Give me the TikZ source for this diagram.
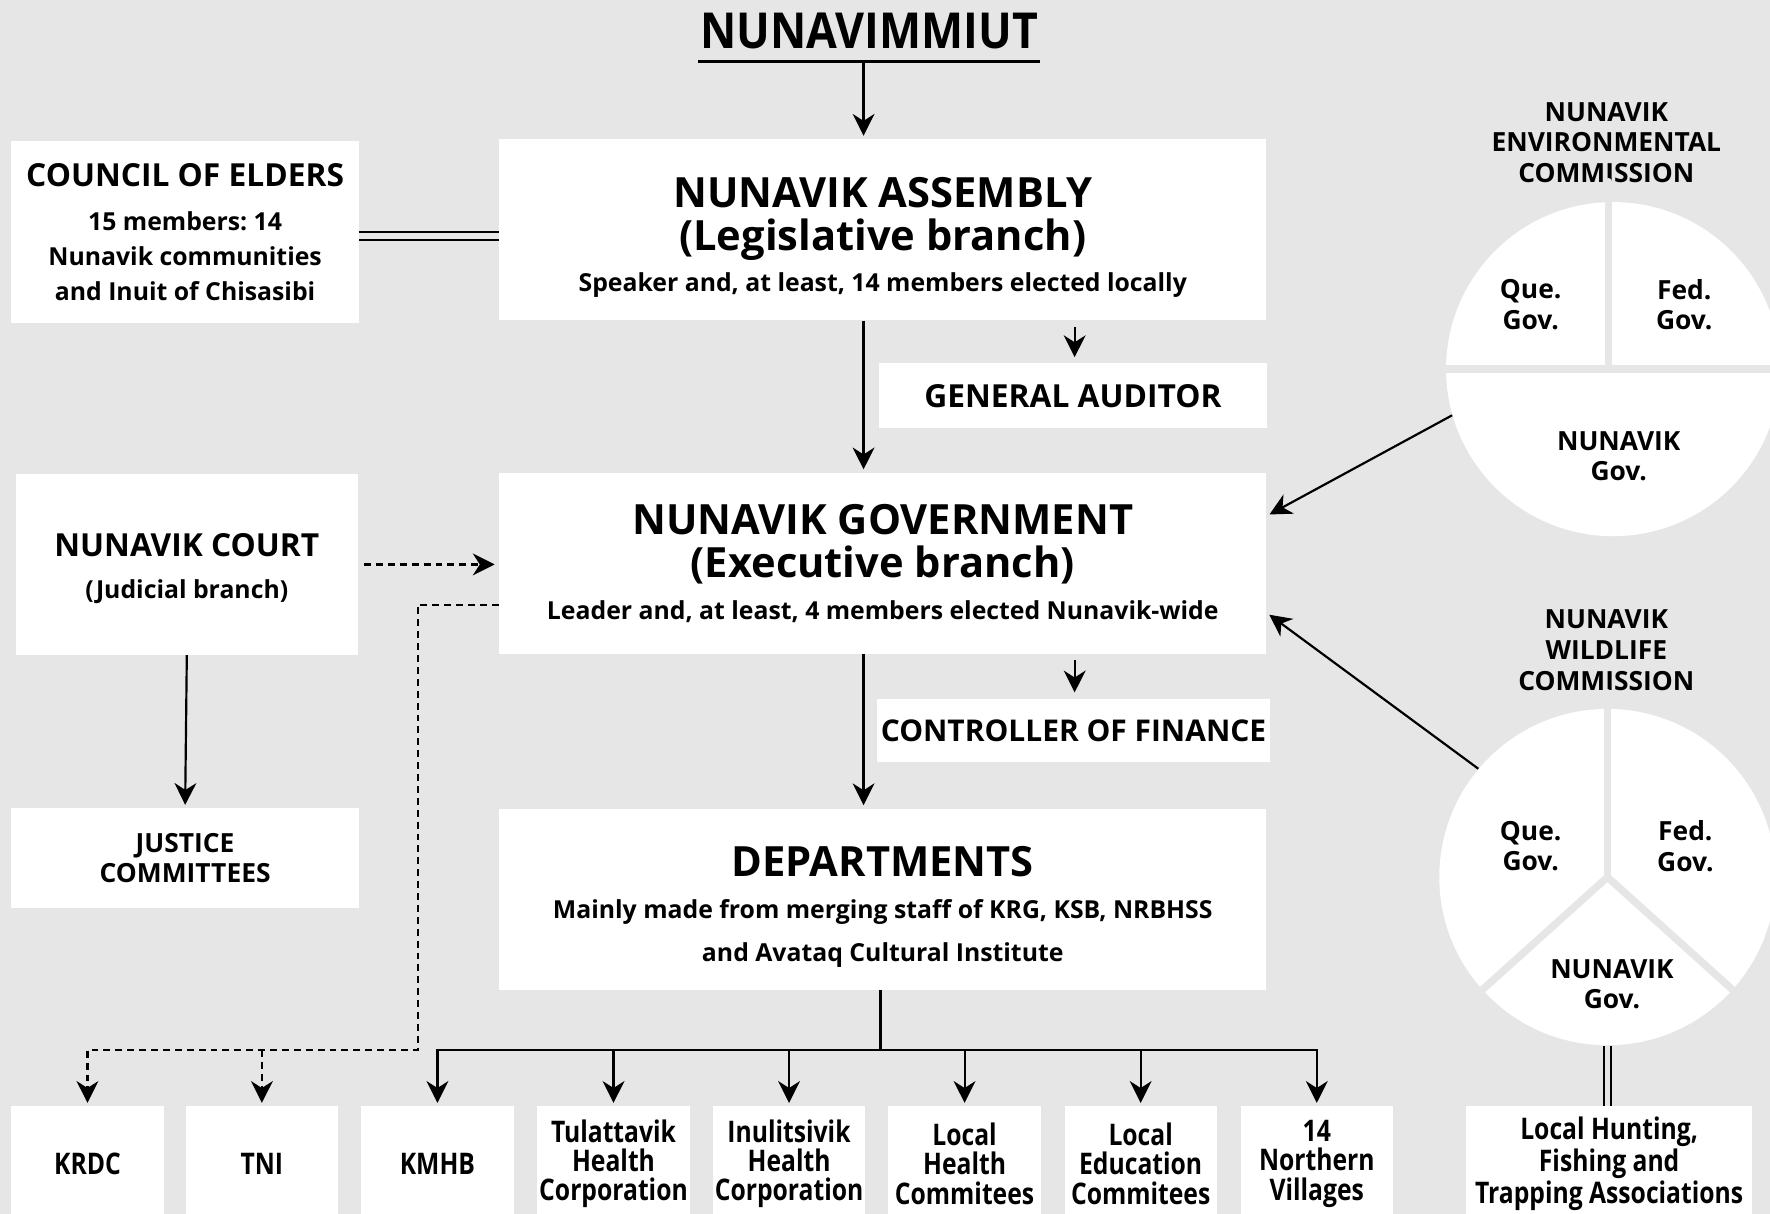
\documentclass[tikz,border=0pt]{standalone}
\usepackage{fontspec}
\setmainfont{Open Sans}
\newfontfamily\estrecha[FakeStretch=0.83]{Open Sans}
\newfontfamily\titular[FakeStretch=0.9]{Open Sans}
\usetikzlibrary{arrows.meta, calc}
\frenchspacing

\definecolor{fondo}{HTML}{E6E6E6}

\newcommand{\ftitulo}{\titular\fontsize{25}{26}\selectfont\bfseries}
\newcommand{\fgrande}{\fontsize{21}{21.6}\selectfont\bfseries}
\newcommand{\fmedia}{\fontsize{16}{20}\selectfont\bfseries}
\newcommand{\fpeq}{\fontsize{12.5}{17.6}\selectfont\bfseries}
\newcommand{\fcom}{\fontsize{13.3}{15.4}\selectfont\bfseries}
\newcommand{\fbase}{\estrecha\fontsize{15}{14.8}\selectfont\bfseries}

\begin{document}
\begin{tikzpicture}[
        x=0.02cm, y=-0.02cm,
        caja/.style={fill=white, inner sep=0pt, align=center},
        ancha/.style={caja, minimum width=13.6cm, minimum height=3.21cm},
        cajabase/.style={caja, font=\fbase, minimum width=2.7cm, minimum height=2.04cm},
        etiq/.style={align=center, font=\fcom, inner sep=0pt},
        sector/.style={circle, fill=white, inner sep=0pt},
        linea/.style={line width=1.1pt},
        flecha/.style={linea, -{Stealth[length=11pt, width=11pt, inset=3.5pt]}, shorten >=1.5pt},
        punteado/.style={dash pattern=on 3.5pt off 2.5pt},
        doble/.style={line width=1.2pt, double=fondo, double distance=2.6pt},
        hueco/.style={draw=fondo, line width=3.7pt, line cap=round, shorten >=-8pt}
    ]
        % Fondo gris
        \useasboundingbox (0,0) rectangle (1568,1075);
        \clip (0,0) rectangle (1568,1075);
        \fill[fondo] (0,0) rectangle (1568,1075);

        % Titulo
        \node[font=\ftitulo, inner xsep=1pt, inner ysep=6.5pt] (titulo) at (770,27) {NUNAVIMMIUT};
        \draw[line width=1.4pt] (titulo.south west) -- (titulo.south east);

        % Cajas centrales
        \node[ancha, font=\fgrande] (asm) at (782,203.5) {\rule{0pt}{23pt}NUNAVIK ASSEMBLY\\(Legislative branch)\\[-0.5pt]{\fpeq Speaker and, at least, 14 members elected locally}};
        \node[caja, font=\fmedia, minimum width=6.86cm, minimum height=1.14cm] (auditor) at (950.5,350.5) {GENERAL AUDITOR};
        \node[ancha, font=\fgrande] (gobierno) at (782,499) {NUNAVIK GOVERNMENT\\(Executive branch)\\[-0.5pt]{\fpeq Leader and, at least, 4 members elected Nunavik-wide}};
        \node[caja, font=\fmedia\fontsize{15.1}{20}\selectfont, minimum width=6.96cm, minimum height=1.12cm] (contralor) at (951,647) {CONTROLLER OF FINANCE};
        \node[ancha, font=\fgrande] (deptos) at (782,796.5) {\rule{0pt}{23pt}DEPARTMENTS\\[-0.5pt]{\fpeq Mainly made from merging staff of KRG, KSB, NRBHSS}\\{\fpeq and Avataq Cultural Institute}};

        % Cajas de la izquierda
        \node[caja, font=\fpeq, minimum width=6.16cm, minimum height=3.22cm] (consejo) at (164,205.5) {{\fmedia COUNCIL OF ELDERS}\\[4.4pt]15 members: 14\\Nunavik communities\\and Inuit of Chisasibi};
        \node[caja, font=\fpeq, minimum width=6.06cm, minimum height=3.2cm] (tribunal) at (165.5,500) {{\fmedia\rule{0pt}{16pt}NUNAVIK COURT}\\[3.3pt](Judicial branch)};
        \node[caja, font=\fcom, minimum width=6.16cm, minimum height=1.76cm] (justicia) at (164,760) {JUSTICE\\COMMITTEES};

        % Fila inferior
        \node[cajabase] (krdc) at (77.5,1031) {KRDC};
        \node[cajabase] (tni) at (232,1031) {TNI};
        \node[cajabase] (kmhb) at (387.5,1031) {KMHB};
        \node[cajabase] (tul) at (543.5,1031) {Tulattavik\\Health\\Corporation};
        \node[cajabase] (inu) at (699,1031) {Inulitsivik\\Health\\Corporation};
        \node[cajabase] (lhc) at (854.5,1031) {Local\\Health\\Commitees};
        \node[cajabase] (lec) at (1010.5,1031) {Local\\Education\\Commitees};
        \node[cajabase] (nv) at (1166.5,1031) {14\\Northern\\Villages};
        \node[cajabase, minimum width=5.06cm] (caza) at (1425.5,1031) {Local Hunting,\\Fishing and\\Trapping Associations};

        % Comision ambiental (circulo en cuatro partes)
        \node[etiq] (tituloenv) at (1423,126) {NUNAVIK\\ENVIRONMENTAL\\COMMISSION};
        \node[sector, minimum size=5.92cm] (envcom) at (1429,327) {};
        \draw[hueco] (1425,327) -- (1425,175);
        \draw[hueco] (1275,327) -- (1575,327);
        \node[etiq] (envque) at (1356,270) {Que.\\Gov.};
        \node[etiq] (envfed) at (1492,270) {Fed.\\Gov.};
        \node[etiq] (envnun) at (1434,404) {NUNAVIK\\Gov.};

        % Comision de fauna (circulo en tres partes)
        \node[etiq] (titulofauna) at (1423,576) {NUNAVIK\\WILDLIFE\\COMMISSION};
        \node[sector, minimum size=5.96cm] (faunacom) at (1424,777) {};
        \draw[hueco] (faunacom.center) -- (faunacom.north);
        \draw[hueco] (faunacom.center) -- (faunacom.-138);
        \draw[hueco] (faunacom.center) -- (faunacom.-42);
        \node[etiq] (faunaque) at (1356,749.5) {Que.\\Gov.};
        \node[etiq] (faunafed) at (1493,749.5) {Fed.\\Gov.};
        \node[etiq] (faunanun) at (1428,872) {NUNAVIK\\Gov.};

        % Flechas principales
        \coordinate (eje) at (765,0);
        \coordinate (eje2) at (952,0);
        \draw[flecha] (eje |- titulo.south) -- (eje |- asm.north);
        \draw[flecha] (eje |- asm.south) -- (eje |- gobierno.north);
        \draw[flecha] (eje |- gobierno.south) -- (eje |- deptos.north);
        \draw[flecha, shorten <=3pt, shorten >=3pt] (eje2 |- asm.south) -- (eje2 |- auditor.north);
        \draw[flecha, shorten <=3pt, shorten >=3pt] (eje2 |- gobierno.south) -- (eje2 |- contralor.north);

        % Conexiones de la izquierda
        \draw[doble] ($(consejo.east)+(0,3.5)$) -- ($(consejo.east -| asm.west)+(0,3.5)$);
        \draw[flecha] (tribunal.south) -- (justicia.north);
        \draw[flecha, punteado, shorten <=3pt, shorten >=2pt] (tribunal.east) -- (tribunal.east -| gobierno.west);
        \coordinate (esq) at (370,930);
        \draw[flecha, punteado] ($(gobierno.west)+(0,37)$) -| (esq) -| (krdc.north);
        \draw[flecha, punteado] (tni.north |- esq) -- (tni.north);

        % Arbol de los departamentos
        \coordinate (rama) at (780,930);
        \draw[flecha] (rama |- deptos.south) -- (rama) -| (kmhb.north);
        \draw[flecha] (rama) -| (nv.north);
        \foreach \b in {tul,inu,lhc,lec}
            \draw[flecha] (\b.north |- rama) -- (\b.north);

        % Comisiones hacia el gobierno
        \draw[flecha] (envcom.196.6) -- ($(gobierno.east)+(0,-42)$);
        \draw[flecha] (faunacom.140.8) -- ($(gobierno.east)+(0,44)$);
        \draw[doble] (faunacom.south) -- (faunacom.south |- caza.north);
        \end{tikzpicture}
\end{document}
